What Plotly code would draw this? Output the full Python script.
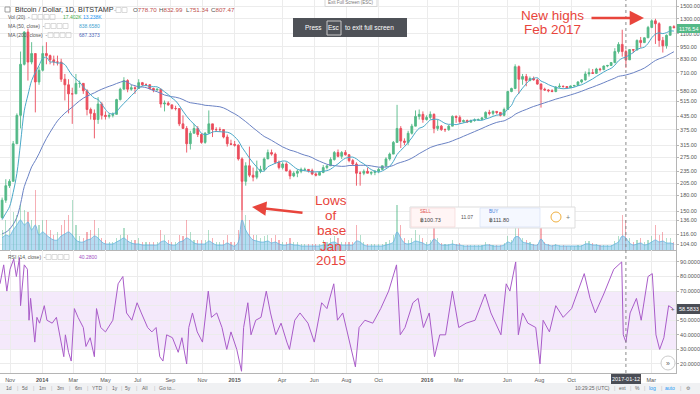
import pandas as pd
import plotly.graph_objects as go

W, H = 700, 394
def px(x): return x / W
def py(y): return 1 - y / H

# ---------------- DATA (weekly bars, BITSTAMP BTC/USD) ----------------
week_start = "2013-10-14"
first_open = 140.0

high_2013 = [175, 215, 215, 330, 450, 900, 1130, 1163, 1000, 880, 760, 960]
low_2013 = [138, 165, 195, 210, 320, 380, 770, 650, 780, 455, 620, 720]
close_2013 = [170, 200, 210, 320, 440, 780, 1120, 800, 880, 640, 730, 880]

high_2014 = [1000, 870, 860, 860, 830, 700, 660, 600, 700, 650, 630, 590, 480, 470, 540, 510,
             460, 450, 455, 530, 600, 675, 660, 620, 610, 660, 640, 630, 625, 600, 595, 590,
             520, 515, 495, 490, 475, 440, 390, 370, 400, 390, 360, 365, 465, 400, 385, 385,
             375, 355, 335, 330]
low_2014 = [780, 780, 770, 770, 640, 520, 450, 400, 560, 600, 560, 440, 420, 340, 400, 420,
            420, 425, 430, 445, 520, 590, 570, 580, 560, 595, 610, 610, 590, 570, 580, 480,
            460, 490, 470, 465, 390, 380, 290, 300, 360, 345, 320, 320, 360, 345, 365, 365,
            340, 310, 315, 310]
close_2014 = [860, 820, 800, 800, 660, 620, 560, 560, 630, 630, 580, 470, 450, 420, 500, 440,
              435, 440, 445, 525, 590, 650, 590, 600, 595, 635, 620, 620, 595, 585, 590, 500,
              505, 495, 475, 475, 400, 380, 320, 360, 380, 355, 325, 360, 400, 375, 375, 375,
              345, 320, 318, 315]

high_2015 = [318, 275, 260, 310, 245, 265, 250, 275, 300, 300, 290, 265, 260, 260, 240, 235,
             240, 245, 245, 240, 242, 232, 235, 252, 250, 275, 295, 300, 295, 298, 285, 270,
             260, 235, 240, 245, 235, 238, 245, 250, 275, 290, 330, 495, 390, 340, 370, 400,
             465, 470, 460, 440]
low_2015 = [265, 152, 200, 220, 210, 215, 230, 235, 270, 280, 255, 240, 240, 235, 215, 220,
            220, 230, 235, 232, 225, 222, 225, 230, 240, 250, 265, 275, 270, 280, 260, 250,
            200, 200, 225, 230, 225, 225, 230, 240, 245, 265, 285, 325, 305, 315, 315, 355,
            390, 420, 405, 415]
close_2015 = [270, 210, 250, 225, 220, 235, 240, 270, 290, 285, 260, 245, 255, 236, 223, 230,
              235, 240, 240, 237, 228, 225, 232, 245, 250, 268, 290, 278, 290, 283, 265, 255,
              230, 230, 235, 230, 232, 235, 240, 250, 270, 285, 325, 380, 330, 325, 360, 390,
              435, 445, 420, 430]

high_2016 = [460, 450, 420, 395, 380, 395, 440, 440, 440, 420, 420, 420, 425, 425, 430, 460,
             468, 465, 460, 455, 480, 580, 600, 780, 770, 700, 700, 680, 680, 665, 630, 600,
             590, 590, 610, 630, 615, 610, 615, 620, 645, 660, 720, 745, 740, 750, 750, 770,
             775, 800, 935, 1000]
low_2016 = [420, 360, 370, 370, 365, 370, 390, 405, 400, 405, 405, 405, 410, 415, 420, 425,
            440, 440, 445, 435, 435, 470, 570, 590, 560, 620, 610, 645, 650, 620, 480, 580,
            570, 570, 570, 600, 600, 595, 600, 605, 615, 630, 650, 680, 700, 700, 720, 730,
            755, 765, 790, 880]
close_2016 = [445, 380, 390, 375, 375, 390, 435, 430, 410, 415, 408, 415, 418, 420, 428, 455,
              450, 460, 455, 440, 470, 575, 595, 760, 660, 680, 650, 665, 655, 625, 590, 585,
              580, 575, 605, 610, 608, 600, 612, 615, 640, 655, 700, 710, 705, 740, 735, 765,
              770, 795, 900, 975]

high_2017 = [1150, 920, 920, 925, 1030, 1060, 1055, 1200, 1290, 1300, 1250, 1060, 1090, 1200, 1210]
low_2017 = [850, 750, 820, 885, 915, 940, 990, 1050, 1170, 980, 950, 890, 930, 1080, 1170]
close_2017 = [900, 820, 920, 915, 1020, 995, 1050, 1180, 1270, 1230, 1020, 960, 1080, 1190, 1176.54]

# weekly closes before the visible window (needed for the moving averages)
prior_closes = [94, 143, 90, 120, 135, 112, 117, 123, 131, 122, 108, 100, 107, 95, 76, 90, 93,
                95, 104, 107, 108, 121, 130, 128, 133, 127, 133, 125, 140]

# volume (thousand BTC): typical daily level and weekly spike
vol_avg = ([12, 15, 14, 20, 25, 30, 25, 28, 20, 25, 15, 18] +
           [15, 12, 10, 10, 14, 16, 18, 15, 10, 8, 8, 10, 11, 14, 12, 8, 6, 6, 6, 8, 10, 12, 9, 7, 6, 6,
            5, 5, 5, 5, 5, 8, 9, 6, 5, 5, 8, 9, 12, 10, 7, 6, 6, 6, 9, 7, 5, 5, 5, 7, 5, 4] +
           [8, 30, 20, 14, 10, 9, 8, 8, 9, 7, 8, 6, 5, 5, 6, 5, 5, 4, 4, 4, 4, 4, 4, 5, 5, 7,
            8, 6, 5, 5, 5, 5, 9, 8, 5, 4, 4, 4, 4, 4, 5, 6, 8, 18, 12, 7, 6, 7, 9, 8, 7, 5] +
           [6, 11, 8, 5, 5, 5, 6, 5, 5, 4, 4, 4, 4, 4, 4, 5, 5, 4, 4, 4, 5, 8, 7, 13, 13, 8,
            7, 6, 5, 5, 11, 6, 5, 4, 5, 4, 4, 4, 4, 4, 4, 4, 6, 6, 5, 5, 4, 4, 4, 4, 6, 8] +
           [14, 12, 7, 5, 6, 7, 5, 6, 8, 10, 8, 9, 7, 7, 6])
vol_peak = ([20, 30, 22, 38, 35, 45, 40, 38, 30, 60, 25, 30] +
            [30, 20, 15, 18, 25, 30, 35, 50, 25, 14, 12, 18, 20, 30, 22, 12, 10, 8, 8, 12, 15, 22, 15, 10, 10, 12,
             8, 8, 8, 8, 8, 20, 15, 10, 8, 8, 15, 14, 30, 18, 10, 10, 10, 10, 20, 12, 8, 8, 10, 15, 8, 8] +
            [20, 70, 35, 30, 15, 15, 12, 14, 15, 12, 15, 10, 8, 8, 12, 8, 8, 6, 6, 6, 6, 6, 6, 10, 8, 12,
             14, 12, 8, 8, 8, 8, 25, 15, 8, 6, 6, 6, 6, 6, 8, 10, 15, 45, 25, 12, 10, 12, 20, 15, 12, 8] +
            [10, 25, 12, 7, 6, 6, 10, 6, 7, 5, 5, 5, 5, 5, 5, 8, 6, 5, 5, 5, 7, 14, 10, 25, 28, 12,
             10, 8, 6, 6, 30, 8, 6, 5, 6, 5, 5, 4, 4, 4, 5, 5, 9, 9, 7, 6, 5, 5, 5, 5, 9, 14] +
            [35, 30, 12, 8, 10, 12, 8, 10, 14, 25, 15, 18, 12, 12, 8])

# RSI (14, close) turning points
rsi_dates = ["2013-10-13", "2013-10-20", "2013-10-26", "2013-11-01", "2013-11-08", "2013-11-13",
             "2013-11-19", "2013-11-21", "2013-11-28", "2013-12-04", "2013-12-07", "2013-12-10",
             "2013-12-18", "2013-12-22", "2013-12-27", "2014-01-05", "2014-01-10", "2014-01-20",
             "2014-01-28", "2014-02-06", "2014-02-11", "2014-02-14", "2014-02-20", "2014-02-25",
             "2014-03-03", "2014-03-10", "2014-03-20", "2014-03-25", "2014-04-02", "2014-04-10",
             "2014-04-14", "2014-04-22", "2014-05-01", "2014-05-15", "2014-05-25", "2014-06-03",
             "2014-06-10", "2014-06-20", "2014-06-30", "2014-07-08", "2014-07-20", "2014-07-28",
             "2014-08-05", "2014-08-12", "2014-08-18", "2014-08-25", "2014-09-05", "2014-09-16",
             "2014-09-23", "2014-10-02", "2014-10-06", "2014-10-13", "2014-10-22", "2014-11-01",
             "2014-11-12", "2014-11-18", "2014-11-28", "2014-12-08", "2014-12-17", "2014-12-25",
             "2015-01-05", "2015-01-14", "2015-01-18", "2015-01-26", "2015-02-01", "2015-02-10",
             "2015-02-20", "2015-03-02", "2015-03-10", "2015-03-20", "2015-03-30", "2015-04-10",
             "2015-04-15", "2015-04-25", "2015-05-05", "2015-05-20", "2015-06-01", "2015-06-15",
             "2015-06-25", "2015-07-08", "2015-07-15", "2015-07-25", "2015-08-05", "2015-08-18",
             "2015-08-25", "2015-09-05", "2015-09-20", "2015-10-05", "2015-10-20", "2015-11-04",
             "2015-11-11", "2015-11-20", "2015-12-05", "2015-12-15", "2015-12-25", "2016-01-05",
             "2016-01-15", "2016-01-25", "2016-02-05", "2016-02-18", "2016-03-01", "2016-03-15",
             "2016-04-01", "2016-04-20", "2016-05-01", "2016-05-20", "2016-05-30", "2016-06-06",
             "2016-06-17", "2016-06-22", "2016-06-30", "2016-07-10", "2016-07-25", "2016-08-02",
             "2016-08-08", "2016-08-20", "2016-09-01", "2016-09-15", "2016-10-01", "2016-10-25",
             "2016-11-05", "2016-11-15", "2016-12-01", "2016-12-20", "2017-01-04", "2017-01-07",
             "2017-01-12", "2017-01-20", "2017-02-01", "2017-02-10", "2017-02-23", "2017-03-03",
             "2017-03-10", "2017-03-17", "2017-03-25", "2017-04-03", "2017-04-11"]
rsi_values = [75, 88, 70, 85, 92, 80, 93, 60, 88, 85, 50, 65, 35, 52, 48, 60, 50, 48, 52, 35, 25,
              40, 28, 22, 58, 52, 45, 32, 38, 25, 58, 45, 42, 50, 75, 80, 55, 50, 62, 55, 45, 42,
              45, 25, 22, 40, 38, 28, 38, 20, 45, 55, 42, 35, 70, 52, 55, 45, 30, 42, 30, 15, 45,
              62, 40, 50, 52, 70, 55, 40, 48, 35, 30, 50, 55, 48, 35, 62, 58, 75, 50, 55, 38, 18,
              45, 50, 48, 58, 70, 88, 40, 45, 62, 65, 45, 55, 25, 40, 40, 70, 45, 48, 50, 68, 55,
              40, 75, 70, 90, 40, 55, 48, 45, 20, 50, 42, 60, 52, 58, 82, 65, 55, 68, 85, 90, 40,
              35, 55, 65, 50, 80, 82, 40, 30, 38, 60, 58]

price_ticks = [104, 116, 136, 150, 180, 205, 235, 275, 315, 375, 435, 515, 580, 710, 830, 950,
               1100, 1300, 1500]
rsi_ticks = [20, 30, 40, 50, 60, 70, 80, 90]
month_ticks = ["2013-11-01", "2014-01-01", "2014-03-01", "2014-05-01", "2014-07-01", "2014-09-01",
               "2014-11-01", "2015-01-01", "2015-04-01", "2015-06-01", "2015-08-01", "2015-10-01",
               "2016-01-01", "2016-03-01", "2016-06-01", "2016-08-01", "2016-10-01", "2017-03-01"]
month_labels = ["Nov", "<b>2014</b>", "Mar", "May", "Jul", "Sep", "Nov", "<b>2015</b>", "Apr", "Jun",
                "Aug", "Oct", "<b>2016</b>", "Mar", "Jun", "Aug", "Oct", "Mar"]

# ---------------- BUILD ----------------
highs = high_2013 + high_2014 + high_2015 + high_2016 + high_2017
lows = low_2013 + low_2014 + low_2015 + low_2016 + low_2017
closes = close_2013 + close_2014 + close_2015 + close_2016 + close_2017
opens = [first_open] + closes[:-1]
n = len(closes)
dates = pd.date_range(week_start, periods=n, freq="7D") + pd.Timedelta(days=3)

allc = pd.Series(prior_closes + closes, dtype=float)
ma50 = allc.rolling(7).mean().iloc[len(prior_closes):].values
ma200 = allc.rolling(29).mean().iloc[len(prior_closes):].values

UP, DN = "#53b987", "#eb4d5c"
vol_colors = ["rgba(83,185,135,0.45)" if c >= o else "rgba(235,77,92,0.45)" for o, c in zip(opens, closes)]

fig = go.Figure()
fig.add_trace(go.Scatter(x=dates, y=vol_avg, yaxis="y3", mode="lines", line=dict(color="#62b4df", width=0.8, shape="spline"),
                         fill="tozeroy", fillcolor="rgba(120,192,232,0.55)", hoverinfo="skip"))
fig.add_trace(go.Bar(x=dates, y=vol_peak, yaxis="y3", marker=dict(color=vol_colors, line=dict(width=0)),
                     width=2.2 * 86400000))
fig.add_trace(go.Scatter(x=dates, y=ma200, mode="lines", line=dict(color="#6a82c4", width=1, shape="spline")))
fig.add_trace(go.Scatter(x=dates, y=ma50, mode="lines", line=dict(color="#4aa8c8", width=1, shape="spline")))
fig.add_trace(go.Candlestick(x=dates, open=opens, high=highs, low=lows, close=closes,
                             increasing=dict(line=dict(color=UP, width=0.9), fillcolor=UP),
                             decreasing=dict(line=dict(color=DN, width=0.9), fillcolor=DN),
                             whiskerwidth=0))
fig.add_trace(go.Scatter(x=pd.to_datetime(rsi_dates), y=rsi_values, xaxis="x2", yaxis="y2", mode="lines",
                         line=dict(color="#a95cc9", width=1)))

grid = "#ececec"
axcol = "#b5b5b5"
xr = ["2013-10-13", "2017-04-17"]
dom_x = [0, 676 / W]

shapes = []
def rect(x0, y0, x1, y1, fill=None, line=None, lw=1, layer="above"):
    shapes.append(dict(type="rect", xref="paper", yref="paper", x0=px(x0), x1=px(x1), y0=py(y1), y1=py(y0),
                       fillcolor=fill or "rgba(0,0,0,0)", line=dict(color=line or "rgba(0,0,0,0)", width=lw if line else 0),
                       layer=layer))

shapes.append(dict(type="rect", xref="paper", yref="y2", x0=0, x1=676 / W, y0=30, y1=70,
                   fillcolor="#f4e9fb", line=dict(width=0), layer="below"))
shapes.append(dict(type="line", xref="x", yref="paper", x0="2017-01-12", x1="2017-01-12", y0=py(373), y1=1,
                   line=dict(color="#8a8a8a", width=1, dash="dot")))
rect(0, 383, 700, 394, fill="#f0f1f3")
rect(325, -1, 377, 6.5, fill="white", line="#d6d6d6")
rect(293, 18, 407, 37, fill="#4e5157")
rect(327, 21, 341, 35, line="#c8c8c8")
for (x0, yy, k) in [(116, 10, 2), (32, 17, 4), (45, 26, 4), (48, 35, 4), (46, 257, 4)]:
    for i in range(k):
        rect(x0 + i * 6, yy - 2.5, x0 + i * 6 + 5, yy + 2.5, line="#d0d0d0", lw=0.8)
rect(5, 7, 10, 12, line="#888", lw=0.8)
rect(677, 24, 700, 33, fill=UP)
rect(677, 304, 700, 314, fill="#4a4d55")
rect(611, 374, 641, 384, fill="#4a4d55")
rect(410, 207, 575, 228, fill="white", line="#dddddd")
rect(411, 208, 455, 227, fill="#fff5f5", line="#f3d0d0", lw=0.6)
rect(480, 208, 540, 227, fill="#f5f8ff", line="#d0dcf3", lw=0.6)
shapes.append(dict(type="circle", xref="paper", yref="paper", x0=px(551), x1=px(561), y0=py(222), y1=py(212),
                   line=dict(color="#f0b040", width=1)))
shapes.append(dict(type="circle", xref="paper", yref="paper", x0=px(661), x1=px(675), y0=py(370), y1=py(356),
                   line=dict(color="#cccccc", width=1), fillcolor="white"))

ann = []
def T(x, y, text, size=6, color="#444", anchor="left", font="Liberation Sans, Arial, sans-serif", **kw):
    ann.append(dict(x=px(x), y=py(y), xref="paper", yref="paper", text=text, showarrow=False,
                    xanchor=anchor, yanchor="middle", font=dict(size=size, color=color, family=font), **kw))

T(13, 10, "Bitcoin / Dollar, 1D, BITSTAMP", 7.2, "#333")
T(112, 10, "-", 6, "#888")
T(131, 10, "O<span style='color:#c0504d'>778.70</span>", 6.2, "#555")
T(157, 10, "H<span style='color:#c0504d'>832.99</span>", 6.2, "#555")
T(184, 10, "L<span style='color:#c0504d'>751.34</span>", 6.2, "#555")
T(209, 10, "C<span style='color:#c0504d'>807.47</span>", 6.2, "#555")
T(6, 17, "Vol (20)  -", 5, "#555")
T(61, 17, "17.402K", 5, "#4caf50")
T(81, 17, "13.238K", 5, "#2196f3")
T(6, 26, "MA (50, close)  -", 5, "#555")
T(77, 26, "838.6580", 5, "#3f9fcf")
T(6, 35, "MA (200, close)  -", 5, "#555")
T(77, 35, "687.3373", 5, "#4b67b8")
T(6, 257, "RSI (14, close)  -", 5, "#555")
T(77, 257, "40.2800", 5, "#a24fc4")
T(351, 3, "Exit Full Screen (ESC)", 4.5, "#777", anchor="center")
T(313, 28, "Press", 6.5, "white", anchor="center")
T(334, 28, "Esc", 6.5, "white", anchor="center")
T(369, 28, "to exit full screen", 6.5, "white", anchor="center")
T(688.5, 28.5, "1176.54", 5.5, "white", anchor="center")
T(688.5, 309, "58.5833", 5.5, "white", anchor="center")
T(673, 309, "+", 6, "#555", anchor="center")
T(626, 379, "2017-01-12", 5.5, "white", anchor="center")
T(668, 363, "»", 7, "#666", anchor="center")
T(418, 212, "SELL", 4.5, "#e05050")
T(418, 220, "฿100.73", 5.5, "#444")
T(467, 217, "11.07", 5, "#555", anchor="center")
T(487, 212, "BUY", 4.5, "#3d7bd9")
T(487, 220, "฿111.80", 5.5, "#444")
T(568, 217, "+", 7, "#777", anchor="center")
left_items = [(9, "1d"), (25, "5d"), (42, "1m"), (60, "3m"), (78, "6m"), (97, "YTD"), (115, "1y"),
              (128, "5y"), (145, "All"), (167, "Go to...")]
for x, t in left_items:
    T(x, 388, t, 5, "#666", anchor="center")
for x in [17, 33, 51, 69, 87, 106, 121, 136, 154]:
    T(x, 388, "|", 5, "#bbb", anchor="center")
for x, t, c in [(592, "10:29:25 (UTC)", "#666"), (622, "ext", "#666"), (637, "%", "#666"),
                (652, "log", "#2196f3"), (670, "auto", "#2196f3"), (688, "⚙", "#777")]:
    T(x, 388, t, 5, c, anchor="center")
for x in [614, 630, 644, 661, 680]:
    T(x, 388, "|", 5, "#bbb", anchor="center")

RED = "#e8453c"
for y, t in [(15, "New highs"), (29, "Feb 2017")]:
    T(552, y, t, 13.5, RED, anchor="center", font="Liberation Sans, Arial")
for y, t in [(200, "Lows"), (215, "of"), (230, "base"), (246, "Jan"), (260, "2015")]:
    T(331, y, t, 13.5, RED, anchor="center", font="Liberation Sans, Arial")
ann.append(dict(x=px(644), y=py(18), xref="paper", yref="paper", ax=-54, ay=0, axref="pixel", ayref="pixel",
                text="", showarrow=True, arrowhead=2, arrowsize=1.1, arrowwidth=2.6, arrowcolor=RED))
ann.append(dict(x=px(252), y=py(207), xref="paper", yref="paper", ax=52, ay=6, axref="pixel", ayref="pixel",
                text="", showarrow=True, arrowhead=2, arrowsize=1.1, arrowwidth=2.6, arrowcolor=RED))

fig.update_layout(
    width=W, height=H, margin=dict(l=0, r=0, t=0, b=0), paper_bgcolor="white", plot_bgcolor="white",
    showlegend=False, bargap=0, shapes=shapes, annotations=ann, hovermode=False,
    font=dict(family="Liberation Sans, Arial, sans-serif", size=6, color="#555"),
    xaxis=dict(domain=dom_x, range=xr, anchor="y", tickvals=month_ticks, showticklabels=False, showgrid=True,
               gridcolor=grid, gridwidth=1, showline=True, linecolor=axcol, linewidth=1, zeroline=False,
               rangeslider=dict(visible=False), ticks=""),
    xaxis2=dict(domain=dom_x, range=xr, anchor="y2", matches="x", tickvals=month_ticks, ticktext=month_labels,
                tickfont=dict(size=5.5, color="#555"), showgrid=True, gridcolor=grid, showline=True,
                linecolor=axcol, linewidth=1, zeroline=False, ticks="", ticklabelstandoff=1),
    yaxis=dict(domain=[py(250), 1], type="log", range=[1.9878, 3.2053], side="right", anchor="x",
               tickvals=price_ticks, ticktext=[f"{v:.2f}" for v in price_ticks],
               tickfont=dict(size=5.5, color="#555"), showgrid=True, gridcolor=grid, showline=True,
               linecolor=axcol, ticks="outside", ticklen=2, tickcolor=axcol, zeroline=False,
               ticklabeloverflow="allow", automargin=False),
    yaxis3=dict(domain=[py(250), 1], overlaying="y", range=[0, 250], visible=False, anchor="x"),
    yaxis2=dict(domain=[py(373), py(250)], range=[13.8, 98.2], side="right", anchor="x2",
                tickvals=rsi_ticks, ticktext=[("" if v == 60 else f"{v:.4f}") for v in rsi_ticks],
                tickfont=dict(size=5.5, color="#555"), showgrid=True, gridcolor=grid, showline=True,
                linecolor=axcol, ticks="outside", ticklen=2, tickcolor=axcol, zeroline=False,
                ticklabeloverflow="allow", automargin=False),
)

fig.write_html("out.html", config={"displayModeBar": False, "staticPlot": True},
               post_script="document.body.style.margin='0';document.body.style.padding='0';")
